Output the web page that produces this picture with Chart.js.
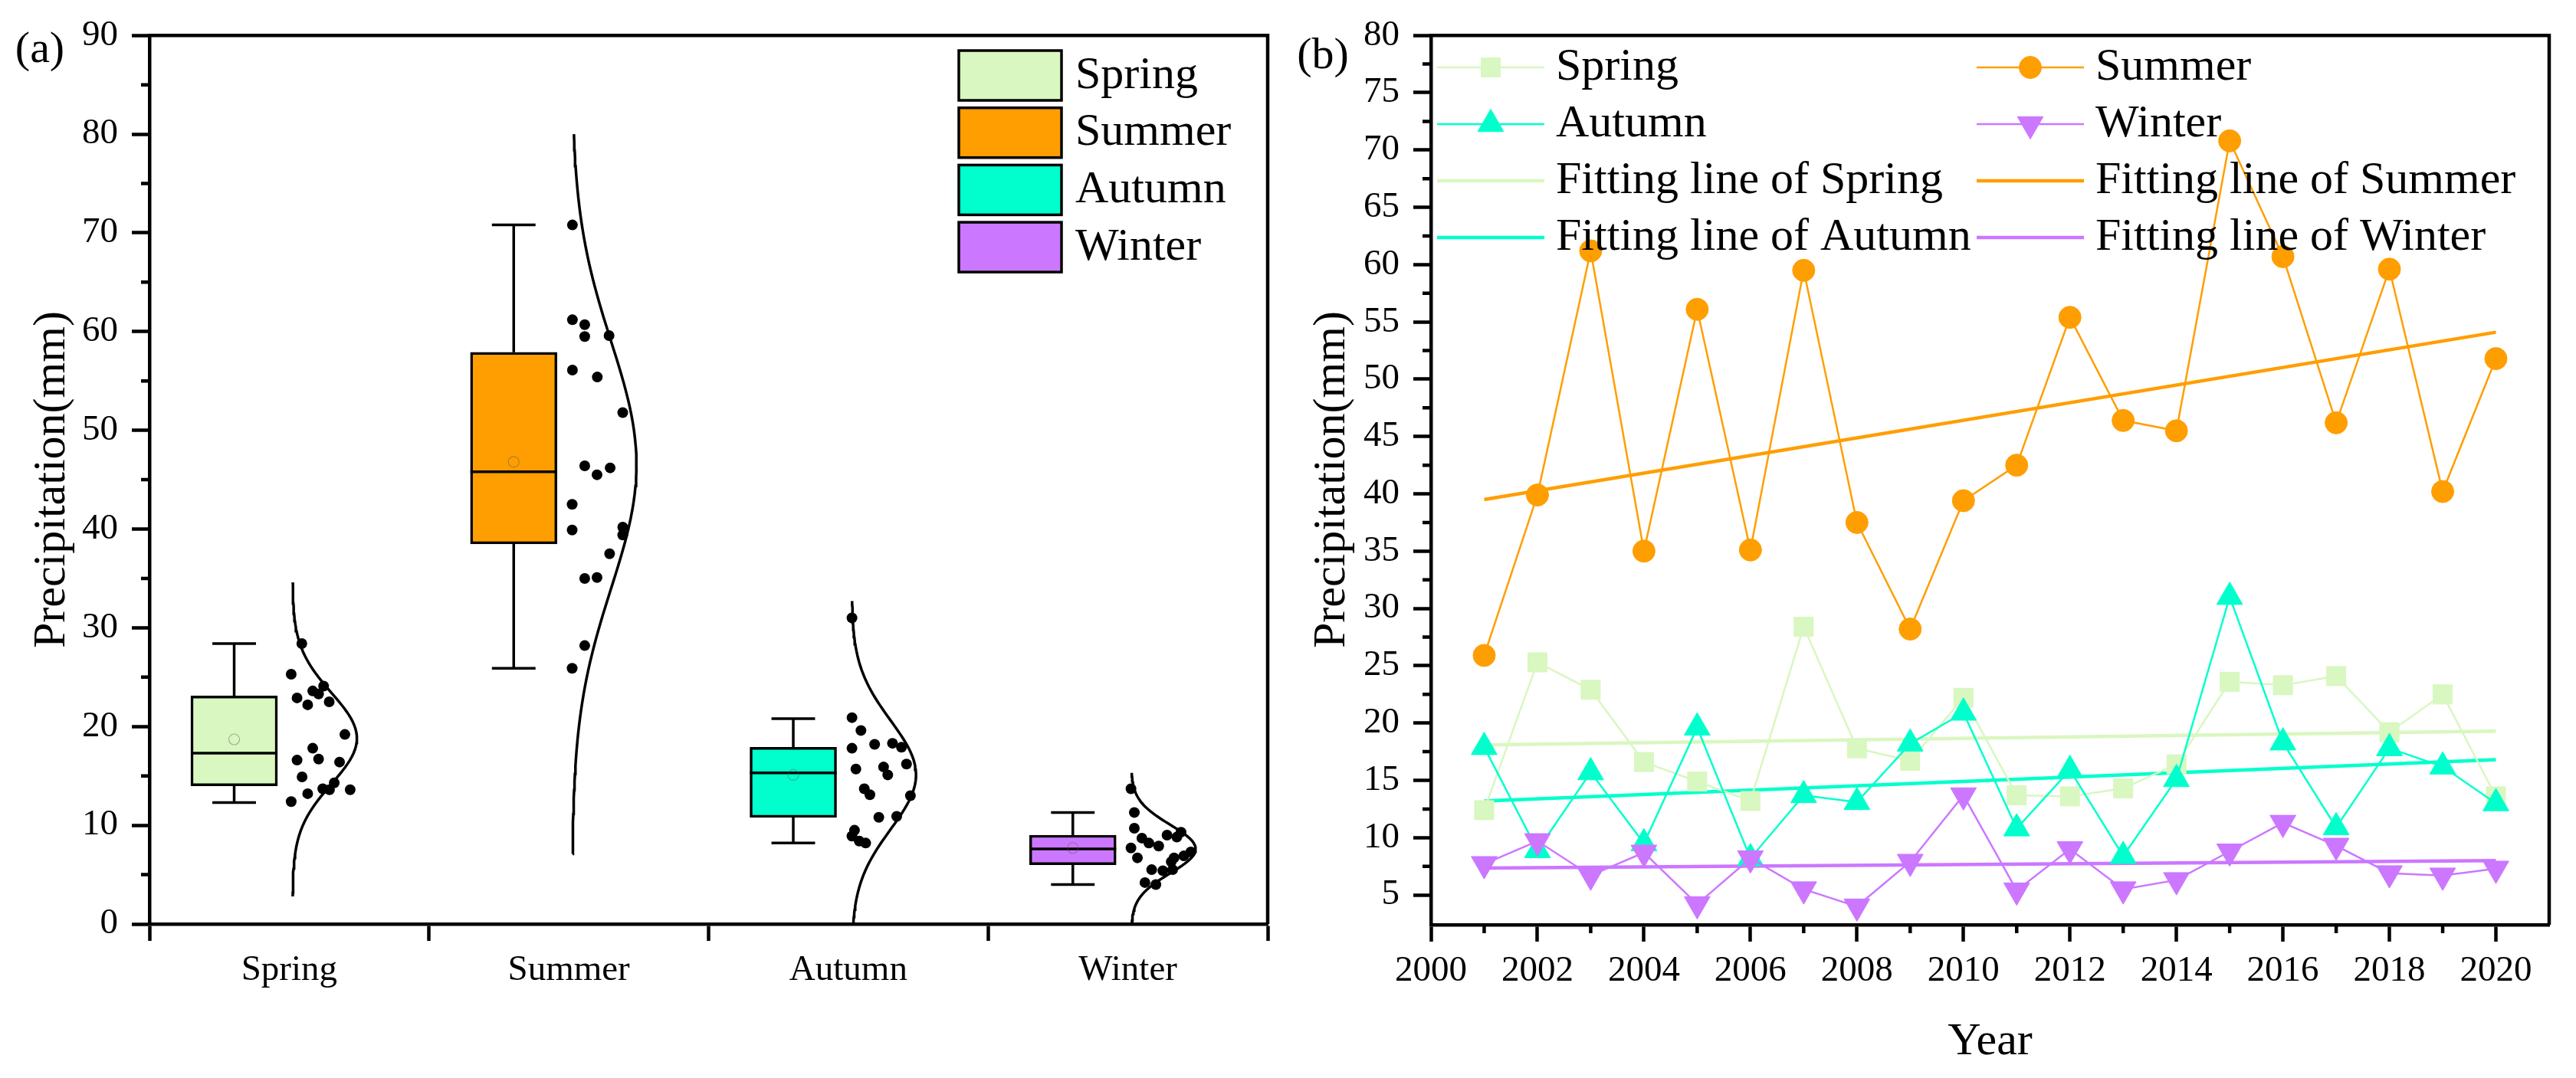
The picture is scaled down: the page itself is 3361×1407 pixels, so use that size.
<!DOCTYPE html>
<html>
<head>
<meta charset="utf-8">
<script src="https://cdn.jsdelivr.net/npm/chart.js@4.4.0/dist/chart.umd.min.js"></script>
<style>
  html, body { margin: 0; padding: 0; background: #fff; }
  body { width: 3361px; height: 1407px; position: relative; overflow: hidden; font-family: "Liberation Serif", "Times New Roman", serif; }
  .panel { position: absolute; top: 0; height: 1407px; }
  #wrapA { left: 0; width: 1680px; }
  #wrapB { left: 1680px; width: 1681px; }
  .tag { position: absolute; font-size: 58px; line-height: 1; transform: translate(-50%, -50%); }
  .ytitle { position: absolute; font-size: 60px; line-height: 1; white-space: nowrap;
            transform: translate(-50%, -50%) rotate(-90deg); }
</style>
</head>
<body>
<div class="panel" id="wrapA"><canvas id="chartA" width="1680" height="1407"></canvas></div>
<div class="panel" id="wrapB"><canvas id="chartB" width="1681" height="1407"></canvas></div>
<div class="tag" style="left:52px;top:62px">(a)</div>
<div class="tag" style="left:1726px;top:70px">(b)</div>
<div class="ytitle" style="left:64px;top:626px">Precipitation(mm)</div>
<div class="ytitle" style="left:1734px;top:626px">Precipitation(mm)</div>
<script>
// seasonal precipitation (mm), 2001-2020
var seasons = ['Spring', 'Summer', 'Autumn', 'Winter'];
var years = [2001, 2002, 2003, 2004, 2005, 2006, 2007, 2008, 2009, 2010,
             2011, 2012, 2013, 2014, 2015, 2016, 2017, 2018, 2019, 2020];
var springRain = [12.4, 25.3, 22.9, 16.6, 14.9, 13.2, 28.4, 17.8, 16.7, 22.2,
                  13.7, 13.6, 14.3, 16.4, 23.6, 23.3, 24.1, 19.2, 22.5, 13.6];
var summerRain = [25.9, 39.9, 61.2, 35.0, 56.1, 35.1, 59.5, 37.5, 28.2, 39.4,
                  42.5, 55.4, 46.4, 45.5, 70.8, 60.7, 46.2, 59.6, 40.2, 51.8];
var autumnRain = [17.9, 8.9, 15.7, 9.5, 19.6, 8.2, 13.7, 13.1, 18.2, 20.9,
                  10.8, 15.9, 8.4, 15.1, 31.0, 18.3, 10.9, 17.8, 16.2, 13.0];
var winterRain = [7.7, 9.7, 6.7, 8.7, 4.2, 8.2, 5.5, 4.0, 7.9, 13.7,
                  5.4, 9.0, 5.5, 6.3, 8.8, 11.3, 9.3, 6.9, 6.7, 7.3];

// horizontal spread of the dots in (a), in category units
var springJitter = [0.007, 0.007, 0.028, 0.028, 0.046, 0.066, 0.045, 0.084, 0.105, 0.066,
                    0.12, 0.144, 0.161, 0.18, 0.084, 0.105, 0.123, 0.199, 0.143, 0.218];
var summerJitter = [0.012, 0.012, 0.013, 0.057, 0.013, 0.101, 0.057, 0.146, 0.057, 0.193,
                    0.012, 0.102, 0.057, 0.101, 0.013, 0.057, 0.148, 0.144, 0.193, 0.193];
var autumnJitter = [0.19, 0.013, 0.027, 0.022, 0.045, 0.062, 0.057, 0.077, 0.094, 0.013,
                    0.109, 0.126, 0.039, 0.141, 0.013, 0.158, 0.173, 0.013, 0.208, 0.222];
var winterJitter = [0.011, 0.023, 0.034, 0.05, 0.061, 0.075, 0.16, 0.1, 0.11, 0.011,
                    0.125, 0.14, 0.085, 0.155, 0.175, 0.023, 0.19, 0.2, 0.165, 0.225];

// box statistics read from (a)
var boxMin = [12.3, 25.9, 8.2, 4.0];
var boxQ1 = [14.0, 38.5, 10.8, 6.0];
var boxMedian = [17.3, 45.8, 15.3, 7.6];
var boxQ3 = [23.1, 57.9, 17.9, 9.0];
var boxMax = [28.4, 70.8, 20.8, 11.3];
var boxMean = [18.7, 46.8, 15.1, 7.7];

// normal curves of the half violins
var curveCenter = [18.8, 46.5, 15.1, 7.6];
var curveSigma = [4.6, 12.5, 5.5, 2.45];
var curveLow = [2.8, 7.1, 0, 0];
var curveHigh = [34.6, 80.0, 32.7, 15.3];

// fitting lines, value at 2001 and at 2020
var fitStart = [18.1, 39.5, 13.2, 7.35];
var fitEnd = [19.3, 54.1, 16.8, 8.0];

// axis ticks
var yTicksA = [0, 10, 20, 30, 40, 50, 60, 70, 80, 90];
var yMinorA = [5, 15, 25, 35, 45, 55, 65, 75, 85];
var yTicksB = [5, 10, 15, 20, 25, 30, 35, 40, 45, 50, 55, 60, 65, 70, 75, 80];
var yMinorB = [7.5, 12.5, 17.5, 22.5, 27.5, 32.5, 37.5, 42.5, 47.5, 52.5, 57.5, 62.5, 67.5, 72.5, 77.5];
var xTicksB = [2000, 2002, 2004, 2006, 2008, 2010, 2012, 2014, 2016, 2018, 2020];
var xMinorB = [2001, 2003, 2005, 2007, 2009, 2011, 2013, 2015, 2017, 2019];

var colors = ['#D9F7C0', '#FF9E00', '#00FFCC', '#CC77FF'];
var serif = "'Liberation Serif', 'Times New Roman', serif";
var allRain = [springRain, summerRain, autumnRain, winterRain];
var allJitter = [springJitter, summerJitter, autumnJitter, winterJitter];

var BOX_SHIFT = -0.197, BOX_HALF = 0.155, CAP_HALF = 0.078;

// frame, minor ticks
var framePlugin = {
  id: 'frame',
  afterDraw: function (chart, args, opts) {
    var ctx = chart.ctx, a = chart.chartArea;
    var sx = chart.scales.x, sy = chart.scales.y;
    ctx.save();
    ctx.strokeStyle = '#000';
    ctx.lineWidth = 4.5;
    ctx.beginPath();
    ctx.moveTo(a.left, a.top);
    ctx.lineTo(a.right, a.top);
    ctx.lineTo(a.right, a.bottom);
    ctx.stroke();
    ctx.beginPath();
    (opts.yMinor || []).forEach(function (v) {
      var y = sy.getPixelForValue(v);
      ctx.moveTo(a.left, y); ctx.lineTo(a.left - 11, y);
    });
    (opts.xMinor || []).forEach(function (v) {
      var x = sx.getPixelForValue(v);
      ctx.moveTo(x, a.bottom); ctx.lineTo(x, a.bottom + 11);
    });
    ctx.stroke();
    ctx.restore();
  }
};

// legend of (a): coloured boxes
var boxLegendPlugin = {
  id: 'boxLegend',
  afterDraw: function (chart) {
    var ctx = chart.ctx;
    ctx.save();
    ctx.font = '60px ' + serif;
    ctx.textBaseline = 'middle';
    seasons.forEach(function (s, k) {
      var top = 66 + k * 74.7;
      ctx.fillStyle = colors[k];
      ctx.fillRect(1251, top, 134, 65);
      ctx.lineWidth = 3.5;
      ctx.strokeStyle = '#000';
      ctx.strokeRect(1251, top, 134, 65);
      ctx.fillStyle = '#000';
      ctx.fillText(s, 1403, top + 33);
    });
    ctx.restore();
  }
};

// legend of (b): two columns of line samples
var lineLegendPlugin = {
  id: 'lineLegend',
  afterDraw: function (chart) {
    var ctx = chart.ctx;
    var cols = [195, 899];
    ctx.save();
    ctx.font = '60px ' + serif;
    ctx.textBaseline = 'middle';
    chart.data.datasets.forEach(function (ds, i) {
      var x0 = cols[i % 2], y = 88 + Math.floor(i / 2) * 74;
      ctx.strokeStyle = ds.borderColor;
      ctx.lineWidth = ds.borderWidth;
      ctx.beginPath();
      ctx.moveTo(x0, y); ctx.lineTo(x0 + 140, y);
      ctx.stroke();
      if (ds.pointRadius > 0) {
        ctx.fillStyle = ds.pointBackgroundColor;
        ctx.strokeStyle = ds.pointBackgroundColor;
        ctx.lineWidth = 1;
        Chart.helpers.drawPoint(ctx, {
          pointStyle: ds.pointStyle, radius: ds.pointRadius,
          rotation: ds.pointRotation || 0, borderWidth: 1
        }, x0 + 70, y);
      }
      ctx.fillStyle = '#000';
      ctx.fillText(ds.label, x0 + 155, y);
    });
    ctx.restore();
  }
};

function buildCharts() {
  Chart.defaults.font.family = serif;
  Chart.defaults.color = '#000';
  var tickFont = { family: serif, size: 47 };
  var titleFont = { family: serif, size: 60 };

  // ---------- panel (a) ----------
  var boxData = seasons.map(function (s, k) {
    return { x: k + 1 + BOX_SHIFT, y: [boxQ1[k], boxQ3[k]] };
  });
  var whiskerData = [];
  var medianData = [];
  seasons.forEach(function (s, k) {
    var c = k + 1 + BOX_SHIFT;
    whiskerData.push({ x: c, y: boxQ3[k] }, { x: c, y: boxMax[k] }, { x: c, y: null },
      { x: c - CAP_HALF, y: boxMax[k] }, { x: c + CAP_HALF, y: boxMax[k] }, { x: c, y: null },
      { x: c, y: boxQ1[k] }, { x: c, y: boxMin[k] }, { x: c, y: null },
      { x: c - CAP_HALF, y: boxMin[k] }, { x: c + CAP_HALF, y: boxMin[k] }, { x: c, y: null });
    medianData.push({ x: c - BOX_HALF, y: boxMedian[k] }, { x: c + BOX_HALF, y: boxMedian[k] }, { x: c, y: null });
  });
  var meanData = seasons.map(function (s, k) { return { x: k + 1 + BOX_SHIFT, y: boxMean[k] }; });

  var dotData = [];
  allRain.forEach(function (vals, k) {
    vals.forEach(function (v, i) { dotData.push({ x: k + 1 + allJitter[k][i], y: v }); });
  });

  function halfViolin(k) {
    var pts = [], n = 90;
    for (var i = 0; i <= n; i++) {
      var y = curveLow[k] + (curveHigh[k] - curveLow[k]) * i / n;
      var d = (y - curveCenter[k]) / curveSigma[k];
      pts.push({ x: k + 1.012 + 0.23 * Math.exp(-d * d / 2), y: y });
    }
    return pts;
  }

  var segStyle = { type: 'line', borderColor: '#000', borderWidth: 3.5, pointRadius: 0, fill: false, spanGaps: false, tension: 0 };

  var datasetsA = [
    { type: 'bar', data: boxData, backgroundColor: colors, borderColor: '#000', borderWidth: 3.5,
      borderSkipped: false, barThickness: 113, grouped: false, order: 3 },
    Object.assign({ data: whiskerData, order: 4 }, segStyle),
    Object.assign({ data: medianData, order: 1 }, segStyle),
    { type: 'scatter', data: meanData, pointRadius: 7, pointBackgroundColor: 'rgba(0,0,0,0)',
      pointBorderColor: 'rgba(90,90,90,0.45)', pointBorderWidth: 1.2, order: 0 },
    { type: 'scatter', data: dotData, pointRadius: 7, pointBackgroundColor: '#000',
      pointBorderColor: '#000', pointBorderWidth: 0, order: 0 }
  ];
  seasons.forEach(function (s, k) {
    datasetsA.push(Object.assign({}, segStyle, { data: halfViolin(k), order: 2 }));
  });

  new Chart(document.getElementById('chartA'), {
    type: 'scatter',
    data: { datasets: datasetsA },
    options: {
      responsive: false,
      animation: false,
      devicePixelRatio: 1,
      layout: { padding: { left: 0, top: 43, right: 26, bottom: 0 } },
      plugins: { legend: { display: false }, tooltip: { enabled: false }, frame: { yMinor: yMinorA } },
      scales: {
        x: {
          type: 'linear', min: 0.5, max: 4.5, offset: false,
          afterBuildTicks: function (s) { s.ticks = seasons.map(function (n, k) { return { value: k + 1 }; }); },
          afterFit: function (s) { s.height = 201; },
          ticks: { callback: function (v) { return seasons[v - 1]; }, font: tickFont, padding: 10,
                   maxRotation: 0, autoSkip: false },
          grid: { drawOnChartArea: false, drawTicks: true, tickLength: 22, tickWidth: 4.5, tickColor: '#000' },
          border: { display: true, width: 4.5, color: '#000' }
        },
        y: {
          min: 0, max: 90,
          afterBuildTicks: function (s) { s.ticks = yTicksA.map(function (v) { return { value: v }; }); },
          afterFit: function (s) { s.width = 195; },
          ticks: { font: tickFont, padding: 18 },
          grid: { drawOnChartArea: false, drawTicks: true, tickLength: 23, tickWidth: 4.5, tickColor: '#000' },
          border: { display: true, width: 4.5, color: '#000' }
        }
      }
    },
    plugins: [framePlugin, boxLegendPlugin]
  });

  // ---------- panel (b) ----------
  var markerStyles = ['rect', 'circle', 'triangle', 'triangle'];
  var markerRadius = [17.7, 14.5, 19.5, 19.5];
  var markerRotation = [0, 0, 0, 180];

  var datasetsB = [];
  seasons.forEach(function (s, k) {
    datasetsB.push({
      type: 'line', label: s,
      data: years.map(function (yr, i) { return { x: yr, y: allRain[k][i] }; }),
      borderColor: colors[k], borderWidth: 2.5, tension: 0,
      pointStyle: markerStyles[k], pointRadius: markerRadius[k], pointRotation: markerRotation[k],
      pointBackgroundColor: colors[k], pointBorderColor: colors[k], pointBorderWidth: 1,
      order: 4 - k
    });
  });
  seasons.forEach(function (s, k) {
    datasetsB.push({
      type: 'line', label: 'Fitting line of ' + s,
      data: [{ x: years[0], y: fitStart[k] }, { x: years[years.length - 1], y: fitEnd[k] }],
      borderColor: colors[k], borderWidth: 4.5, tension: 0, pointRadius: 0,
      order: 8 - k
    });
  });

  new Chart(document.getElementById('chartB'), {
    type: 'line',
    data: { datasets: datasetsB },
    options: {
      responsive: false,
      animation: false,
      devicePixelRatio: 1,
      layout: { padding: { left: 0, top: 43, right: 35, bottom: 0 } },
      plugins: { legend: { display: false }, tooltip: { enabled: false },
                 frame: { yMinor: yMinorB, xMinor: xMinorB } },
      scales: {
        x: {
          type: 'linear', min: 2000, max: 2021, offset: false,
          afterBuildTicks: function (s) { s.ticks = xTicksB.map(function (v) { return { value: v }; }); },
          afterFit: function (s) { s.height = 200; },
          ticks: { callback: function (v) { return String(v); }, font: tickFont, padding: 10,
                   maxRotation: 0, autoSkip: false },
          grid: { drawOnChartArea: false, drawTicks: true, tickLength: 22, tickWidth: 4.5, tickColor: '#000' },
          border: { display: true, width: 4.5, color: '#000' },
          title: { display: true, text: 'Year', font: titleFont, padding: { top: 0, bottom: 11 } }
        },
        y: {
          min: 2.4, max: 80,
          afterBuildTicks: function (s) { s.ticks = yTicksB.map(function (v) { return { value: v }; }); },
          afterFit: function (s) { s.width = 187; },
          ticks: { font: tickFont, padding: 18 },
          grid: { drawOnChartArea: false, drawTicks: true, tickLength: 23, tickWidth: 4.5, tickColor: '#000' },
          border: { display: true, width: 4.5, color: '#000' }
        }
      }
    },
    plugins: [framePlugin, lineLegendPlugin]
  });
}

// wait for the serif face so the canvas text is not drawn with a fallback font
var started = false;
function startOnce() { if (!started) { started = true; buildCharts(); } }
if (document.fonts && document.fonts.load) {
  Promise.all([
    document.fonts.load("47px 'Liberation Serif'"),
    document.fonts.load("60px 'Liberation Serif'")
  ]).then(startOnce, startOnce);
  setTimeout(startOnce, 1500);
} else {
  startOnce();
}
</script>
</body>
</html>
